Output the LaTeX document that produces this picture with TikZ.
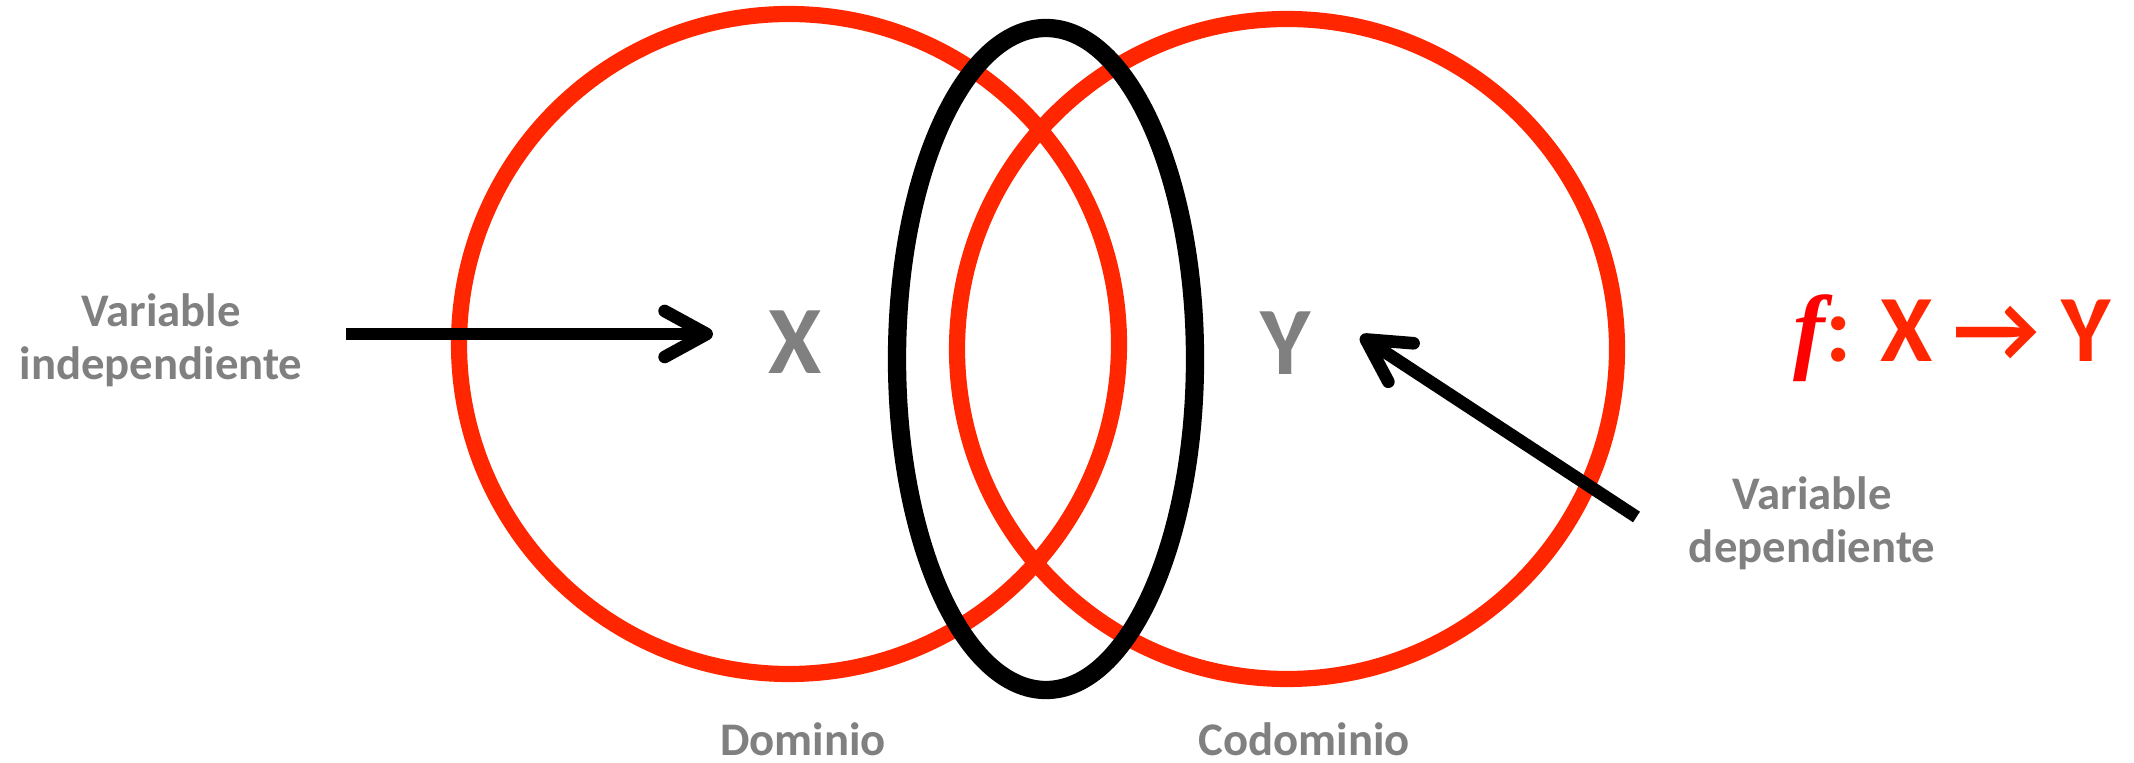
\documentclass[tikz,border=0pt]{standalone}
\usepackage{fontspec}
\setmainfont{Carlito}
\newfontfamily\funcfont{Liberation Serif}
\usepackage{tikz}
\usetikzlibrary{arrows.meta}
\definecolor{vennred}{RGB}{255,38,0}
\tikzset{
    >={Straight Barb[length=4.2mm, width=4.6mm, round]}, % open chevron tip
    setring/.style={line width=4.6pt, draw=vennred},
    mapring/.style={line width=5.2pt, draw=black},
    pointer/.style={line width=3.6pt, draw=black, ->},
    varlabel/.style={font=\bfseries\fontsize{27.5}{30}\selectfont, text=gray},
    textlabel/.style={font=\bfseries\fontsize{13.3}{15.2}\selectfont, text=gray, align=center},
    maplabel/.style={font=\bfseries\fontsize{27}{30}\selectfont, text=vennred}
}

\begin{document}
\begin{tikzpicture}
  \useasboundingbox (0,0) rectangle (21.34,-7.63);
  % domain and codomain (red), the map on top (black ellipse)
  \draw[setring] (7.89,-3.44) circle (3.30cm);
  \draw[setring] (12.87,-3.49) circle (3.30cm);
  \draw[mapring] (10.46,-3.59) ellipse (1.49cm and 3.31cm);

  % variables
  \node[varlabel] (xvar) at (7.95,-3.42) {X};
  \node[varlabel] (yvar) at (12.86,-3.43) {Y};

  % labels
  \node[textlabel] (indep) at (1.61,-3.40) {Variable\\independiente};
  \node[textlabel] (dep) at (18.12,-5.23) {Variable\\dependiente};
  \node[textlabel, anchor=base] (dom) at (8.03,-7.55) {Dominio};
  \node[textlabel, anchor=base] (codom) at (13.04,-7.55) {Codominio};
  \node[maplabel, anchor=base] (fmap) at (19.52,-3.62) {{\color{red}\funcfont\itshape f}: X → Y};

  % pointers
  \draw[pointer] ([xshift=3.1mm,yshift=0.6mm]indep.east)
    -- ([xshift=-4.3mm,yshift=0.6mm]indep.east -| xvar.west);
  \draw[pointer] ([xshift=-4mm,yshift=0.6mm]dep.west) -- ([xshift=3.7mm,yshift=0.7mm]yvar.east);
\end{tikzpicture}
\end{document}
